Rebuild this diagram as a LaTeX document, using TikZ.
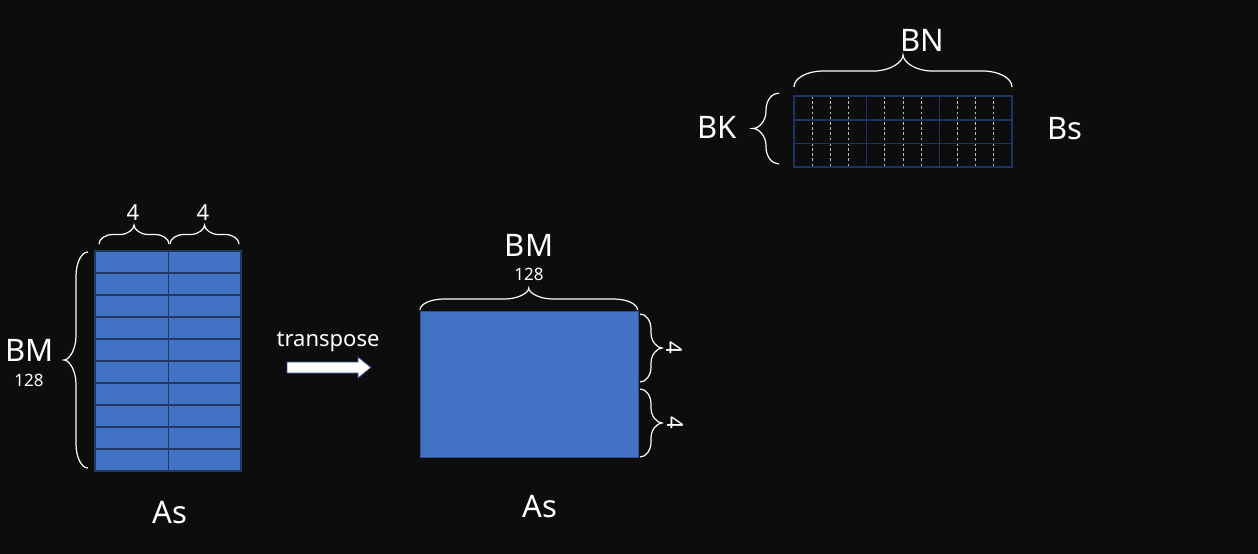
\documentclass[tikz,border=0pt]{standalone}
\usepackage{fontspec}
\setmainfont{Noto Sans}
\definecolor{bg}{HTML}{0D0D0D}
\definecolor{asblue}{HTML}{4472C4}
\definecolor{asline}{HTML}{203864}
\definecolor{asborder}{HTML}{2F528F}
\definecolor{bsline}{HTML}{1C3560}
\definecolor{dashgray}{HTML}{BFBFBF}
\tikzset{
  bracestyle/.style={draw=white, line width=1.2pt},
  lbl/.style={text=white, inner sep=0pt, anchor=base},
  big/.style={lbl, font=\fontsize{31}{31}\selectfont},
  mid/.style={lbl, font=\fontsize{22}{22}\selectfont},
  small/.style={lbl, font=\fontsize{17}{17}\selectfont},
  rotfour/.style={text=white, inner sep=0pt, font=\fontsize{22}{22}\selectfont, rotate=-90},
}
\newcommand{\HBraceUp}[5]{%
  \pgfmathsetmacro\bxa{#1}\pgfmathsetmacro\bxb{#2}%
  \pgfmathsetmacro\byb{#3}\pgfmathsetmacro\byt{#3-#4}%
  \pgfmathsetmacro\bym{#3-#4/2}\pgfmathsetmacro\bxc{(#1+#2)/2}%
  \pgfmathsetmacro\brx{#5}\pgfmathsetmacro\bq{#4/2}%
  \draw[bracestyle] (\bxa,\byb) .. controls (\bxa,\byb-0.55*\bq) and (\bxa+0.45*\brx,\bym) .. (\bxa+\brx,\bym)
    -- (\bxc-\brx,\bym) .. controls (\bxc-0.45*\brx,\bym) and (\bxc,\bym-0.55*\bq) .. (\bxc,\byt)
    .. controls (\bxc,\bym-0.55*\bq) and (\bxc+0.45*\brx,\bym) .. (\bxc+\brx,\bym)
    -- (\bxb-\brx,\bym) .. controls (\bxb-0.45*\brx,\bym) and (\bxb,\byb-0.55*\bq) .. (\bxb,\byb);}
\newcommand{\VBrace}[5]{%
  \pgfmathsetmacro\vxb{#1}\pgfmathsetmacro\vya{#2}\pgfmathsetmacro\vyb{#3}%
  \pgfmathsetmacro\vq{(#4)/2}\pgfmathsetmacro\vxm{#1+(#4)/2}\pgfmathsetmacro\vxt{#1+(#4)}%
  \pgfmathsetmacro\vyc{(#2+#3)/2}\pgfmathsetmacro\vry{#5}%
  \draw[bracestyle] (\vxb,\vya) .. controls (\vxb+0.55*\vq,\vya) and (\vxm,\vya+0.45*\vry) .. (\vxm,\vya+\vry)
    -- (\vxm,\vyc-\vry) .. controls (\vxm,\vyc-0.45*\vry) and (\vxm+0.55*\vq,\vyc) .. (\vxt,\vyc)
    .. controls (\vxm+0.55*\vq,\vyc) and (\vxm,\vyc+0.45*\vry) .. (\vxm,\vyc+\vry)
    -- (\vxm,\vyb-\vry) .. controls (\vxm,\vyb-0.45*\vry) and (\vxb+0.55*\vq,\vyb) .. (\vxb,\vyb);}
\begin{document}
\begin{tikzpicture}[x=1pt,y=-1pt]
\useasboundingbox (0,0) rectangle (1258,554);
\fill[bg] (0,0) rectangle (1258,554);

% ---------- left As ----------
\fill[asblue] (95,251) rectangle (241,471);
\foreach \r in {1,...,9} { \draw[asline, line width=1.2pt] (95,251+22*\r) -- (241,251+22*\r); }
\draw[asline, line width=1.2pt] (168.5,251) -- (168.5,471);
\draw[asline, line width=1.2pt] (95,251) rectangle (241,471);

\HBraceUp{99}{169}{244}{19}{14}
\HBraceUp{170}{239}{244}{19}{14}
\node[mid] (fourA) at (133,220) {4};
\node[mid] (fourB) at (203,220) {4};
\VBrace{88}{252}{468}{-24}{24}
\node[big] (bmL) at (29.5,361.7) {BM};
\node[small] (nL) at (29,386) {128};
\node[big] (asL) at (170,523) {As};

% ---------- transpose arrow ----------
\node[mid] (tr) at (328,346) {transpose};
\draw[fill=white, draw=asborder, line width=0.8pt]
  (287,362) -- (358,362) -- (358,357) -- (371,367.5) -- (358,378) -- (358,373) -- (287,373) -- cycle;

% ---------- right As ----------
\fill[asblue, draw=asborder, line width=1pt] (420.5,311.5) rectangle (638,457);
\HBraceUp{420}{637.5}{310}{22}{24}
\node[big] (bmR) at (529,256) {BM};
\node[small] (nR) at (529,280) {128};
\VBrace{640}{314}{382}{22}{15}
\VBrace{640}{389}{457}{22}{15}
\node[rotfour] (fourC) at (674,347.5) {4};
\node[rotfour] (fourD) at (675.5,422.5) {4};
\node[big] (asR) at (540,517.7) {As};

% ---------- Bs ----------
\foreach \b in {794,866.67,939.33} {
  \foreach \k in {1,2,3} {
    \draw[dashgray, line width=0.9pt, dash pattern=on 2.8pt off 2.4pt] (\b+18.17*\k,96) -- (\b+18.17*\k,167);
  }
}
\draw[bsline, line width=1.1pt] (794,120) -- (1012,120);
\draw[bsline, line width=1.1pt] (794,143.5) -- (1012,143.5);
\draw[bsline, line width=1.5pt] (866.67,96) -- (866.67,167);
\draw[bsline, line width=1.5pt] (939.33,96) -- (939.33,167);
\draw[bsline, line width=1.1pt] (794,96) rectangle (1012,167);

\HBraceUp{794}{1012}{87}{32}{29}
\node[big] (bn) at (922,51.7) {BN};
\VBrace{779}{93}{164}{-26}{17}
\node[big] (bk) at (716.7,138.3) {BK};
\node[big] (bs) at (1065,139) {Bs};
\end{tikzpicture}
\end{document}
